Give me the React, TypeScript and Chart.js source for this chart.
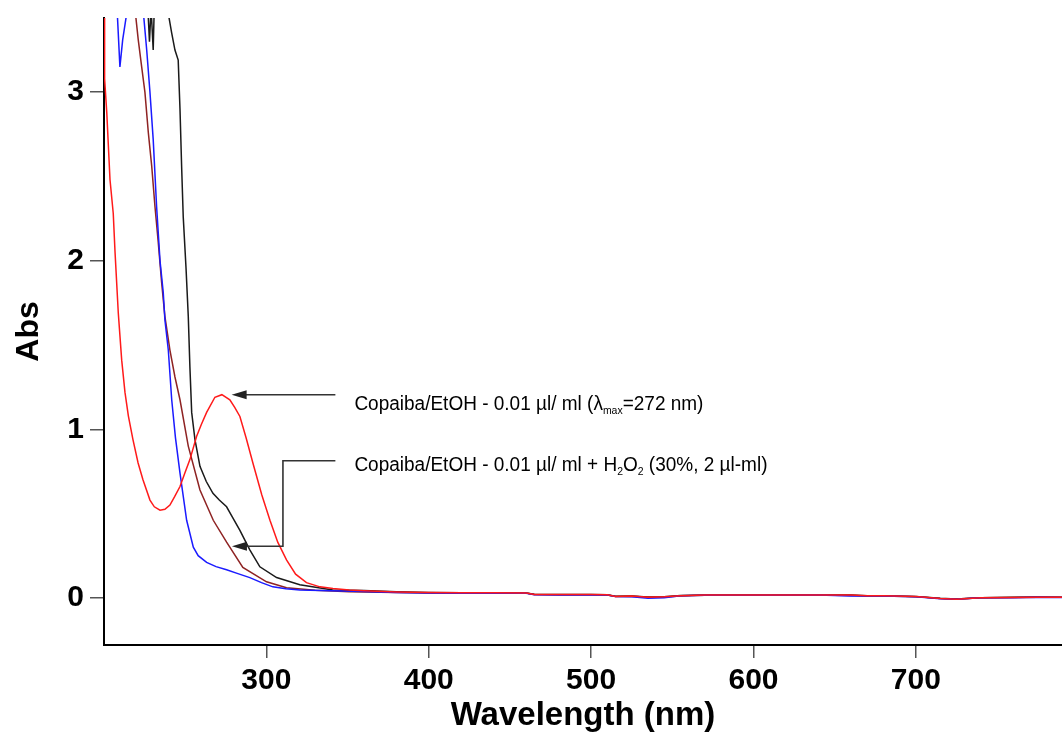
import React, { useEffect, useRef } from "react";
import { Chart, registerables } from "chart.js";

Chart.register(...registerables);

// ---- data (wavelength in nm, absorbance) ----
const redNm = [199.5, 200, 200.15, 200.6, 201.7, 203.7, 205.7, 206.8, 208.8, 210.9, 212.9, 215, 217.8, 221, 224, 228.3, 231, 234.5, 237.5, 240.6, 243.5, 246.8, 249.8, 252.9, 257, 260, 263.2, 268.3, 272.6, 277.5, 280.5, 283.7, 287.5, 291.7, 297.2, 302.2, 307, 312.4, 318, 324.7, 333, 341, 351,
  360, 380, 400, 420, 440, 460, 465, 480, 500, 510, 515, 525, 535, 545, 555, 570, 600, 640, 660, 670, 680, 700, 715, 725, 740, 760, 775, 790];
const redAbs = [3.7, 3.6, 3.15, 3.08, 2.88, 2.48, 2.28, 2.05, 1.69, 1.41, 1.22, 1.08, 0.94, 0.8, 0.7, 0.58, 0.54, 0.52, 0.525, 0.55, 0.6, 0.66, 0.74, 0.82, 0.957, 1.03, 1.1, 1.19, 1.205, 1.175, 1.13, 1.076, 0.95, 0.8, 0.61, 0.46, 0.33, 0.225, 0.14, 0.09, 0.065, 0.055, 0.047,
  0.042, 0.035, 0.031, 0.03, 0.03, 0.029, 0.02, 0.019, 0.019, 0.018, 0.008, 0.01, 0.004, 0.006, 0.012, 0.016, 0.016, 0.017, 0.016, 0.012, 0.012, 0.008, -0.004, -0.008, 0.0, 0.002, 0.004, 0.004];

const blueNm = [207, 209.8, 211.5, 214.5, 224, 226.3, 228.3, 230.3, 232.4, 234.5, 236.5, 237.5, 239.6, 241.7, 244, 246.8, 250.9, 255, 258, 263.2, 269, 275.5, 282, 289.8, 297, 304, 312, 320.6, 340,
  360, 380, 400, 420, 440, 460, 465, 480, 500, 510, 515, 525, 535, 545, 555, 570, 600, 640, 660, 670, 680, 700, 715, 725, 740, 760, 775, 790];
const blueAbs = [3.7, 3.15, 3.31, 3.5, 3.5, 3.25, 3.0, 2.72, 2.32, 2.0, 1.81, 1.65, 1.47, 1.175, 0.95, 0.74, 0.46, 0.3, 0.25, 0.21, 0.185, 0.166, 0.145, 0.12, 0.09, 0.065, 0.054, 0.047, 0.042,
  0.038, 0.032, 0.028, 0.027, 0.027, 0.027, 0.018, 0.016, 0.016, 0.016, 0.008, 0.006, -0.002, 0.0, 0.012, 0.015, 0.015, 0.016, 0.01, 0.012, 0.01, 0.006, -0.006, -0.008, 0.0, 0.0, 0.003, 0.002];

const brownNm = [219, 221.1, 223.2, 225.2, 227.3, 229.4, 231.4, 233.4, 235.5, 237.5, 240.6, 243.7, 246.8, 251.9, 259.1, 267.3, 275.5, 285.5, 300.1, 312.4, 330, 351,
  360, 380, 400, 420, 440, 460, 465, 480, 500, 510, 515, 525, 535, 545, 555, 570, 600, 640, 660, 670, 680, 700, 715, 725, 740, 760, 775, 790];
const brownAbs = [3.5, 3.31, 3.15, 3.0, 2.76, 2.56, 2.32, 2.11, 1.87, 1.67, 1.47, 1.31, 1.175, 0.9, 0.64, 0.46, 0.33, 0.18, 0.095, 0.06, 0.045, 0.036,
  0.034, 0.031, 0.029, 0.028, 0.028, 0.028, 0.019, 0.018, 0.018, 0.017, 0.008, 0.009, 0.003, 0.005, 0.011, 0.015, 0.015, 0.016, 0.014, 0.011, 0.011, 0.007, -0.004, -0.007, 0.0, 0.002, 0.003, 0.004];

const blackNm = [226.5, 228, 229, 230.3, 231.2, 239, 241.7, 243.7, 245.7, 246.8, 247.8, 248.8, 250.5, 251.9, 252.9, 254, 256, 259.1, 263, 267.1, 271, 275.5, 279, 283.7, 289.8, 296, 306.3, 320.6, 340.9,
  360, 380, 400, 420, 440, 460, 465, 480, 500, 510, 515, 525, 535, 545, 555, 570, 600, 640, 660, 670, 680, 700, 715, 725, 740, 760, 775, 790];
const blackAbs = [3.6, 3.3, 3.5, 3.25, 3.6, 3.5, 3.35, 3.25, 3.19, 2.9, 2.56, 2.26, 1.96, 1.67, 1.37, 1.1, 0.94, 0.78, 0.69, 0.62, 0.58, 0.54, 0.48, 0.4, 0.285, 0.184, 0.12, 0.077, 0.047,
  0.043, 0.036, 0.031, 0.03, 0.03, 0.029, 0.021, 0.019, 0.019, 0.018, 0.009, 0.011, 0.005, 0.006, 0.013, 0.016, 0.016, 0.017, 0.016, 0.012, 0.012, 0.008, -0.003, -0.007, 0.001, 0.003, 0.005, 0.004];

const xTicks = [300, 400, 500, 600, 700];
const yTicks = [0, 1, 2, 3];

// annotation anchors in data units
const arrow1 = { tipNm: 278.6, fromNm: 342.5, abs: 1.205 };
const arrow2 = { fromNm: 342.5, elbowNm: 310.2, topAbs: 0.813, bottomAbs: 0.306, tipNm: 278.8 };
const label1 = { nm: 354.2, abs: 1.114, parts: [["Copaiba/EtOH - 0.01 µl/ ml (λ", 0], ["max", 1], ["=272 nm)", 0]] as [string, number][] };
const label2 = { nm: 354.2, abs: 0.75, parts: [["Copaiba/EtOH - 0.01 µl/ ml + H", 0], ["2", 1], ["O", 0], ["2", 1], [" (30%, 2 µl-ml)", 0]] as [string, number][] };

const FONT = "'Liberation Sans', Arial, sans-serif";

function pts(xs: number[], ys: number[]) {
  return xs.map((x, i) => ({ x, y: ys[i] }));
}

const annotationPlugin = {
  id: "annot",
  afterDatasetsDraw(chart: any) {
    const { ctx, scales } = chart;
    const sx = scales.x, sy = scales.y;
    ctx.save();
    ctx.strokeStyle = "#333";
    ctx.fillStyle = "#222";
    ctx.lineWidth = 1.6;
    const head = (tx: number, ty: number) => {
      ctx.beginPath();
      ctx.moveTo(tx, ty);
      ctx.lineTo(tx + 15, ty - 4.5);
      ctx.lineTo(tx + 15, ty + 4.5);
      ctx.closePath();
      ctx.fill();
    };
    // arrow 1
    const y1 = sy.getPixelForValue(arrow1.abs);
    ctx.beginPath();
    ctx.moveTo(sx.getPixelForValue(arrow1.fromNm), y1);
    ctx.lineTo(sx.getPixelForValue(arrow1.tipNm) + 10, y1);
    ctx.stroke();
    head(sx.getPixelForValue(arrow1.tipNm), y1);
    // arrow 2
    const yt = sy.getPixelForValue(arrow2.topAbs);
    const yb = sy.getPixelForValue(arrow2.bottomAbs);
    const xe = sx.getPixelForValue(arrow2.elbowNm);
    ctx.beginPath();
    ctx.moveTo(sx.getPixelForValue(arrow2.fromNm), yt);
    ctx.lineTo(xe, yt);
    ctx.lineTo(xe, yb);
    ctx.lineTo(sx.getPixelForValue(arrow2.tipNm) + 10, yb);
    ctx.stroke();
    head(sx.getPixelForValue(arrow2.tipNm), yb);
    // labels
    ctx.fillStyle = "#000";
    ctx.textBaseline = "alphabetic";
    ctx.textAlign = "left";
    const drawLabel = (lab: typeof label1) => {
      const x0 = sx.getPixelForValue(lab.nm);
      const y0 = sy.getPixelForValue(lab.abs);
      ctx.save();
      ctx.translate(x0, y0);
      ctx.scale(0.95, 1);
      let x = 0;
      for (const [t, sub] of lab.parts) {
        ctx.font = sub ? `11px ${FONT}` : `20px ${FONT}`;
        ctx.fillText(t, x, sub ? 4 : 0);
        x += ctx.measureText(t).width;
      }
      ctx.restore();
    };
    drawLabel(label1);
    drawLabel(label2);
    ctx.restore();
  },
};

export default function App() {
  const ref = useRef<HTMLCanvasElement>(null);
  useEffect(() => {
    document.body.style.margin = "0";
    const tickFont = { family: FONT, size: 30, weight: "bold" as const };
    const titleFont = { family: FONT, size: 32, weight: "bold" as const };
    const chart = new Chart(ref.current!, {
      type: "line",
      data: {
        datasets: [
          { data: pts(redNm, redAbs), borderColor: "#ff1a1a" },
          { data: pts(blueNm, blueAbs), borderColor: "#1a1aff" },
          { data: pts(brownNm, brownAbs), borderColor: "#8e2323" },
          { data: pts(blackNm, blackAbs), borderColor: "#1a1a1a" },
        ],
      },
      options: {
        animation: false,
        responsive: false,
        devicePixelRatio: 1,
        parsing: false as any,
        elements: {
          point: { radius: 0 },
          line: { borderWidth: 1.5, tension: 0, fill: false },
        },
        layout: { padding: { top: 18, right: 0, left: 0, bottom: 0 } },
        plugins: { legend: { display: false }, tooltip: { enabled: false } },
        scales: {
          x: {
            type: "linear",
            min: 200,
            max: 790,
            afterBuildTicks: (s: any) => {
              s.ticks = xTicks.map((v) => ({ value: v }));
            },
            afterFit: (s: any) => {
              s.height = 95;
            },
            ticks: { font: tickFont, color: "#000", padding: 5, maxRotation: 0, autoSkip: false },
            grid: { display: true, drawOnChartArea: false, drawTicks: true, tickLength: 13, color: "#555", lineWidth: 1.5 },
            border: { display: true, color: "#000", width: 2 },
            title: { display: true, text: "Wavelength (nm)", font: { family: FONT, size: 33, weight: "bold" as const }, color: "#000", padding: { top: 4, bottom: 4 } },
          },
          y: {
            type: "linear",
            min: -0.28,
            max: 3.44,
            afterBuildTicks: (s: any) => {
              s.ticks = yTicks.map((v) => ({ value: v }));
            },
            afterFit: (s: any) => {
              s.width = 104;
            },
            ticks: { font: { family: FONT, size: 30, weight: "bold" as const, lineHeight: 0.8 }, color: "#000", padding: 6, autoSkip: false },
            grid: { display: true, drawOnChartArea: false, drawTicks: true, tickLength: 14, color: "#555", lineWidth: 1.5 },
            border: { display: true, color: "#000", width: 2 },
            title: { display: true, text: "Abs", font: titleFont, color: "#000", padding: { top: 10, bottom: 0 } },
          },
        },
      },
      plugins: [annotationPlugin],
    });
    return () => chart.destroy();
  }, []);
  return (
    <div style={{ position: "absolute", left: 0, top: 0, width: 1062, height: 740, background: "#fff" }}>
      <canvas ref={ref} width={1062} height={740} style={{ display: "block" }} />
    </div>
  );
}
